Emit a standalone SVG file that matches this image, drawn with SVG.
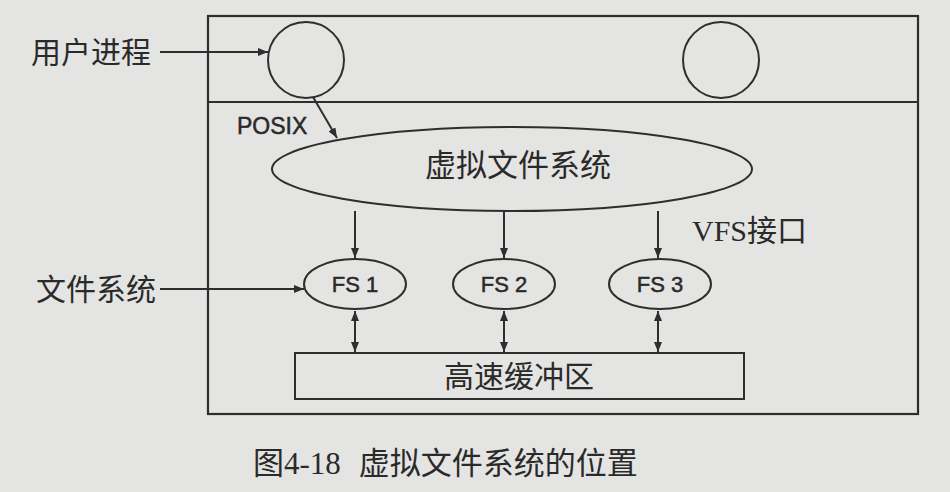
<svg xmlns="http://www.w3.org/2000/svg" width="950" height="492" viewBox="0 0 950 492">
<style>
.ln{stroke:#2e2e2e;stroke-width:2;fill:none}
.sh{stroke:#2e2e2e;stroke-width:2.2;fill:none}
.cj{font-family:"Liberation Serif","Noto Sans CJK SC",serif;fill:#2a2a2a}
.sn{font-family:"Liberation Sans",Arial,sans-serif;fill:#2a2a2a;stroke:#2a2a2a;stroke-width:0.5}
</style>
<defs>
<marker id="ah" viewBox="0 0 10 8" refX="10" refY="4" markerWidth="10" markerHeight="8" markerUnits="userSpaceOnUse" orient="auto-start-reverse">
<path d="M0,0 L10,4 L0,8 Z" fill="#2e2e2e"/>
</marker>
</defs>
<rect width="950" height="492" fill="#e4e4e2"/>
<g id="frame">
<rect x="208" y="16" width="710" height="398" class="sh"/>
<line x1="208" y1="102" x2="918" y2="102" class="ln"/>
</g>
<g id="proc1"><circle cx="306" cy="60" r="38" class="ln"/></g>
<g id="proc2"><circle cx="721" cy="60" r="38" class="ln"/></g>
<g id="vfs">
<ellipse cx="512" cy="169" rx="240" ry="42" class="ln"/>
<text x="518" y="176" class="cj" font-size="31" text-anchor="middle">虚拟文件系统</text>
</g>
<g id="fs1">
<ellipse cx="355" cy="284" rx="51" ry="25" class="ln"/>
<text x="355" y="292" class="sn" font-size="22" text-anchor="middle">FS 1</text>
</g>
<g id="fs2">
<ellipse cx="504" cy="284" rx="51" ry="25" class="ln"/>
<text x="504" y="292" class="sn" font-size="22" text-anchor="middle">FS 2</text>
</g>
<g id="fs3">
<ellipse cx="660" cy="284" rx="51" ry="25" class="ln"/>
<text x="660" y="292" class="sn" font-size="22" text-anchor="middle">FS 3</text>
</g>
<g id="cache">
<rect x="295" y="353" width="449" height="46" class="ln"/>
<text x="519" y="387" class="cj" font-size="30" text-anchor="middle">高速缓冲区</text>
</g>
<g id="labels">
<text x="31" y="63" class="cj" font-size="30">用户进程</text>
<text x="36" y="300" class="cj" font-size="30">文件系统</text>
<text x="237" y="134" class="sn" font-size="23">POSIX</text>
<text x="692" y="241" class="cj" font-size="30">VFS接口</text>
<text x="253" y="474" class="cj" font-size="31">图4-18<tspan dx="18">虚拟文件系统的位置</tspan></text>
</g>
<g id="connectors">
<line x1="160" y1="52" x2="268" y2="52" class="ln" marker-end="url(#ah)"/>
<line x1="313" y1="97" x2="337" y2="138" class="ln" marker-end="url(#ah)"/>
<line x1="160" y1="289" x2="304" y2="289" class="ln" marker-end="url(#ah)"/>
<line x1="355" y1="211" x2="355" y2="258" class="ln" marker-end="url(#ah)"/>
<line x1="504" y1="211" x2="504" y2="258" class="ln" marker-end="url(#ah)"/>
<line x1="658" y1="211" x2="658" y2="258" class="ln" marker-end="url(#ah)"/>
<line x1="355" y1="311" x2="355" y2="352" class="ln" marker-start="url(#ah)" marker-end="url(#ah)"/>
<line x1="504" y1="311" x2="504" y2="352" class="ln" marker-start="url(#ah)" marker-end="url(#ah)"/>
<line x1="658" y1="311" x2="658" y2="352" class="ln" marker-start="url(#ah)" marker-end="url(#ah)"/>
</g>
</svg>
